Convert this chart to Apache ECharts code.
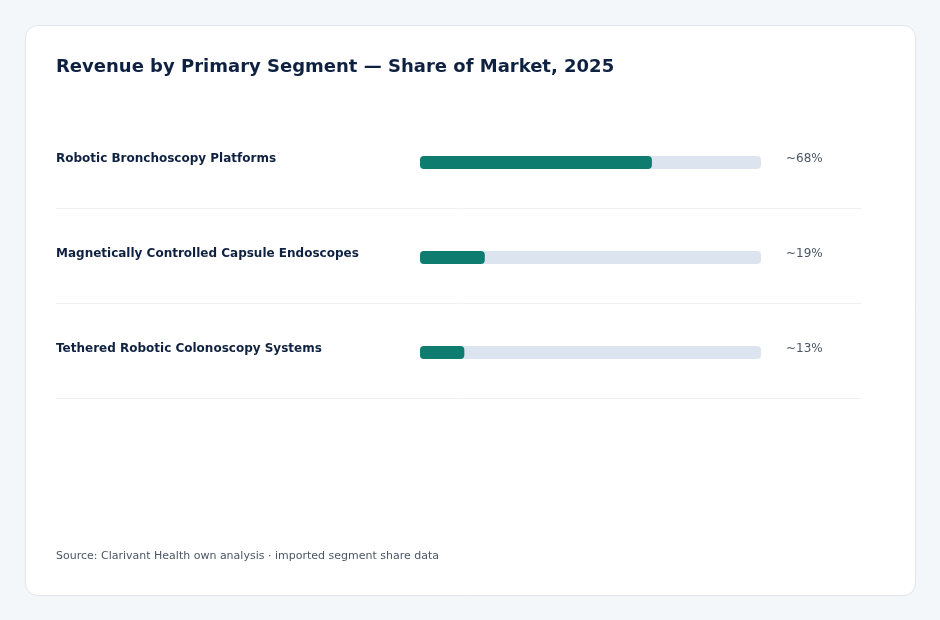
<!DOCTYPE html>
<html lang="en">
<head>
    <meta charset="UTF-8">
    <title>Revenue by Primary Segment</title>
    <script src="https://cdn.jsdelivr.net/npm/echarts@6/dist/echarts.min.js"></script>
    <style>
        html, body { margin: 0; padding: 0; background: #f4f7fa; }
        #main { width: 940px; height: 620px; }
    </style>
</head>
<body>
    <div id="main"></div>
</body>
<script>

// segment names and market share (%)
var segments = ['Robotic Bronchoscopy Platforms', 'Magnetically Controlled Capsule Endoscopes', 'Tethered Robotic Colonoscopy Systems'];
var shares = [68, 19, 13];
var shareLabels = ['~68%', '~19%', '~13%'];

var FONT = 'DejaVu Sans, Verdana, sans-serif';

var chart = echarts.init(document.getElementById('main'));

chart.setOption({
    backgroundColor: '#f4f7fa',
    textStyle: { fontFamily: FONT },
    title: {
        text: 'Revenue by Primary Segment \u2014 Share of Market, 2025',
        left: 56,
        top: 58,
        padding: 0,
        textStyle: {
            color: '#0f2140',
            fontSize: 18,
            fontWeight: 'bold',
            fontFamily: FONT
        }
    },
    graphic: [
        {   // card
            type: 'rect',
            z: -10,
            shape: { x: 25.5, y: 25.5, width: 890, height: 570, r: 12 },
            style: { fill: '#ffffff', stroke: '#e1e5eb', lineWidth: 1 }
        },
        {
            type: 'text',
            left: 56,
            top: 551,
            style: {
                text: 'Source: Clarivant Health own analysis \u00b7 imported segment share data',
                fill: '#4a5565',
                font: '11px ' + FONT
            }
        }
    ],
    grid: [
        { left: 420, right: 179, top: 115, bottom: 220 },   // bars
        { left: 56, right: 79, top: 113, bottom: 222 }      // row separators
    ],
    xAxis: [
        { gridIndex: 0, type: 'value', min: 0, max: 100, show: false },
        { gridIndex: 1, type: 'value', min: 0, max: 100, show: false }
    ],
    yAxis: [
        {
            gridIndex: 0,
            type: 'category',
            inverse: true,
            data: segments,
            axisLine: { show: false },
            axisTick: { show: false },
            splitLine: { show: false },
            axisLabel: {
                margin: 364,
                align: 'left',
                formatter: '{n|{value}}',
                rich: {
                    n: {
                        padding: [0, 0, 7, 0],
                        color: '#0f2140',
                        fontSize: 12,
                        fontWeight: 'bold',
                        fontFamily: FONT
                    }
                }
            }
        },
        {
            gridIndex: 0,
            type: 'category',
            inverse: true,
            position: 'right',
            data: shareLabels,
            axisLine: { show: false },
            axisTick: { show: false },
            splitLine: { show: false },
            axisLabel: {
                margin: 25,
                align: 'left',
                formatter: '{v|{value}}',
                rich: {
                    v: {
                        padding: [0, 0, 7, 0],
                        color: '#4a5565',
                        fontSize: 12,
                        fontFamily: FONT
                    }
                }
            }
        },
        {
            gridIndex: 1,
            type: 'category',
            inverse: true,
            data: segments,
            axisLine: { show: false },
            axisTick: { show: false },
            axisLabel: { show: false },
            splitLine: {
                show: true,
                lineStyle: { color: ['rgba(0,0,0,0)', '#eef0f4', '#eef0f4', '#eef0f4'], width: 1 }
            }
        }
    ],
    series: [
        {
            type: 'bar',
            xAxisIndex: 0,
            yAxisIndex: 0,
            data: shares,
            barWidth: 13,
            itemStyle: { color: '#0e7c6e', borderRadius: 4 },
            showBackground: true,
            backgroundStyle: { color: '#dce5ef', borderRadius: 4 },
            silent: true
        }
    ]
});

window.onresize = function() {
    chart.resize();
};

</script>
</html>
